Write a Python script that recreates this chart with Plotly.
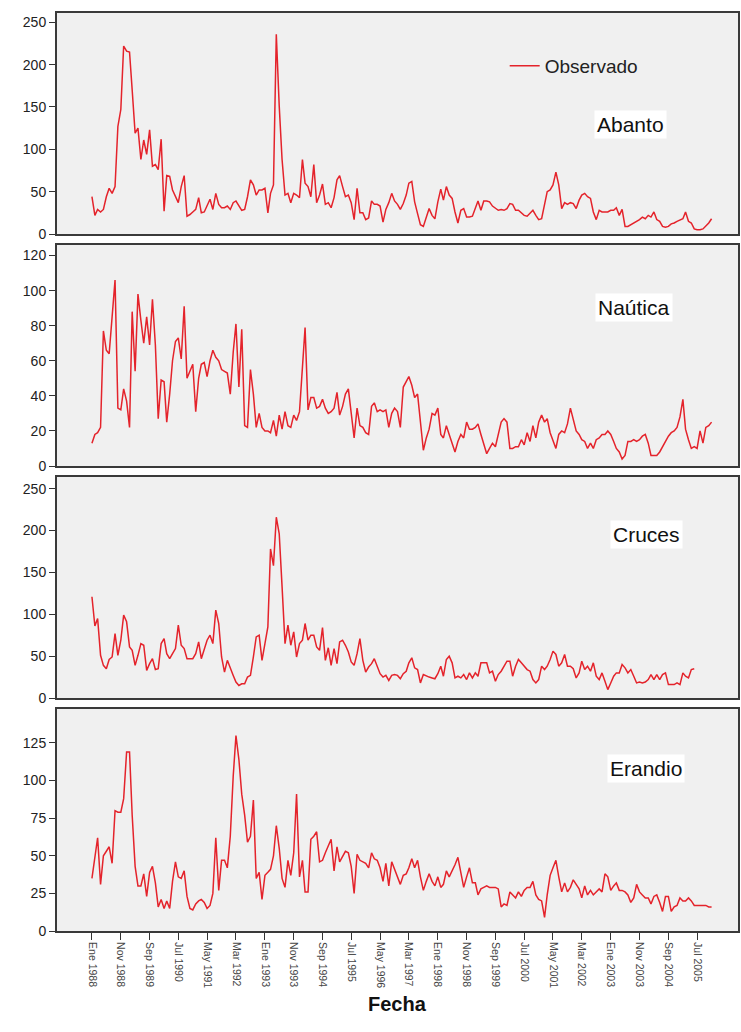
import pandas as pd
import plotly.graph_objects as go

# Monthly observed series, starting January 1988
abanto = [44, 22, 29, 26, 29, 44, 54, 48, 56, 127,
          147, 222, 216, 215, 170, 119, 125, 88, 111, 94,
          123, 80, 82, 76, 112, 27, 69, 68, 52, 44,
          37, 56, 69, 21, 23, 26, 29, 43, 25, 26,
          33, 41, 29, 48, 35, 31, 31, 33, 29, 37,
          39, 33, 28, 29, 44, 64, 58, 46, 52, 52,
          54, 25, 48, 58, 236, 151, 88, 46, 48, 37,
          48, 46, 43, 88, 60, 56, 44, 82, 37, 46,
          59, 35, 37, 31, 43, 64, 69, 56, 44, 46,
          37, 17, 54, 25, 25, 17, 19, 39, 35, 35,
          33, 14, 29, 37, 48, 39, 35, 29, 36, 46,
          60, 62, 38, 24, 11, 9, 20, 30, 22, 18,
          38, 53, 40, 56, 46, 42, 26, 13, 28, 30,
          20, 20, 21, 30, 39, 28, 39, 39, 38, 33,
          30, 28, 29, 28, 30, 36, 35, 28, 28, 25,
          22, 21, 24, 28, 22, 17, 18, 34, 50, 52,
          58, 73, 58, 30, 37, 35, 37, 36, 30, 40,
          46, 48, 44, 42, 26, 17, 28, 26, 26, 26,
          28, 28, 31, 22, 29, 9, 9, 11, 13, 15,
          17, 20, 18, 22, 20, 26, 17, 15, 9, 8,
          9, 12, 13, 15, 17, 18, 26, 15, 13, 6,
          5, 5, 6, 9, 13, 18]

nautica = [13, 18, 19, 22, 77, 66, 64, 88, 106, 33,
           32, 44, 37, 22, 88, 54, 98, 83, 70, 85,
           69, 95, 69, 27, 49, 48, 25, 41, 60, 71,
           73, 61, 91, 50, 54, 58, 31, 50, 58, 59,
           51, 60, 66, 62, 60, 55, 54, 53, 41, 65,
           81, 45, 78, 23, 22, 55, 41, 22, 30, 22,
           20, 20, 19, 26, 17, 29, 21, 31, 23, 22,
           29, 26, 31, 54, 79, 32, 39, 39, 33, 34,
           38, 33, 30, 31, 33, 42, 29, 34, 41, 44,
           29, 16, 33, 23, 22, 19, 18, 34, 36, 31,
           32, 31, 32, 22, 30, 33, 31, 22, 45, 48,
           51, 46, 39, 41, 25, 9, 16, 21, 30, 29,
           33, 18, 16, 23, 18, 13, 8, 14, 18, 16,
           25, 21, 21, 22, 24, 18, 13, 7, 10, 13,
           11, 18, 25, 27, 25, 10, 10, 11, 11, 15,
           12, 19, 14, 23, 16, 25, 29, 25, 27, 19,
           15, 10, 18, 20, 19, 24, 33, 27, 20, 18,
           15, 14, 10, 13, 10, 15, 16, 18, 18, 20,
           18, 14, 10, 8, 4, 6, 14, 14, 15, 14,
           15, 17, 18, 13, 6, 6, 6, 8, 11, 14,
           17, 19, 20, 22, 28, 38, 21, 15, 10, 11,
           10, 20, 13, 22, 23, 25]

cruces = [121, 86, 95, 51, 39, 35, 46, 49, 77, 51,
          69, 99, 91, 61, 57, 39, 51, 65, 63, 33,
          41, 47, 34, 35, 65, 71, 53, 47, 53, 59,
          87, 63, 59, 47, 47, 47, 53, 67, 47, 59,
          69, 75, 65, 105, 89, 49, 31, 45, 37, 27,
          19, 15, 17, 17, 25, 27, 49, 73, 75, 45,
          65, 85, 178, 158, 216, 196, 133, 65, 87, 63,
          79, 49, 65, 69, 89, 69, 75, 75, 61, 57,
          84, 45, 60, 39, 59, 41, 67, 69, 63, 55,
          43, 39, 53, 71, 45, 31, 37, 41, 47, 37,
          29, 25, 27, 21, 27, 28, 27, 23, 29, 32,
          42, 48, 36, 34, 18, 28, 26, 25, 24, 23,
          29, 38, 26, 46, 50, 42, 24, 26, 24, 28,
          22, 30, 24, 30, 26, 42, 42, 42, 30, 32,
          20, 28, 32, 38, 44, 44, 26, 38, 46, 42,
          38, 34, 32, 22, 18, 22, 38, 34, 38, 46,
          56, 52, 38, 42, 52, 38, 38, 35, 24, 30,
          44, 34, 38, 32, 42, 26, 22, 30, 20, 10,
          18, 26, 30, 30, 40, 36, 30, 34, 26, 18,
          19, 18, 19, 22, 28, 22, 28, 22, 28, 30,
          16, 16, 16, 18, 16, 30, 26, 24, 34, 35]

erandio = [35, 48, 62, 31, 50, 53, 56, 45, 80, 79,
           79, 88, 119, 119, 77, 43, 30, 30, 38, 23,
           39, 43, 32, 16, 21, 15, 20, 15, 33, 46,
           36, 35, 40, 23, 15, 14, 18, 20, 21, 19,
           15, 17, 25, 62, 27, 47, 47, 42, 63, 103,
           130, 114, 91, 77, 59, 63, 87, 35, 39, 21,
           37, 39, 41, 50, 70, 55, 35, 29, 47, 37,
           52, 91, 36, 47, 26, 26, 61, 63, 66, 46,
           47, 52, 57, 61, 40, 56, 46, 50, 53, 52,
           43, 25, 51, 47, 46, 45, 42, 52, 48, 47,
           42, 33, 45, 30, 46, 41, 37, 31, 37, 38,
           42, 48, 42, 47, 36, 27, 33, 38, 33, 30,
           36, 29, 31, 40, 36, 40, 44, 49, 40, 29,
           36, 42, 32, 32, 24, 28, 29, 30, 29, 29,
           29, 28, 16, 18, 17, 26, 24, 22, 26, 23,
           27, 29, 29, 33, 24, 21, 20, 9, 24, 37,
           42, 47, 36, 26, 32, 26, 29, 34, 31, 28,
           22, 30, 24, 27, 24, 26, 28, 26, 38, 36,
           27, 30, 32, 27, 27, 26, 24, 19, 22, 31,
           26, 24, 22, 22, 18, 23, 24, 19, 13, 23,
           23, 13, 16, 17, 22, 20, 20, 22, 20, 17,
           17, 17, 17, 17, 16, 16]

stations = ["Abanto", "Naútica", "Cruces", "Erandio"]
series = [abanto, nautica, cruces, erandio]
y_tops = [261, 126, 264, 147.6]
y_steps = [50, 20, 50, 25]
y_maxtick = [250, 120, 250, 125]

tick_labels = ["Ene 1988", "Nov 1988", "Sep 1989", "Jul 1990", "May 1991", "Mar 1992",
               "Ene 1993", "Nov 1993", "Sep 1994", "Jul 1995", "May 1996", "Mar 1997",
               "Ene 1998", "Nov 1998", "Sep 1999", "Jul 2000", "May 2001", "Mar 2002",
               "Ene 2003", "Nov 2003", "Sep 2004", "Jul 2005"]
tick_dates = pd.date_range("1988-01-01", periods=len(tick_labels), freq="10MS")

W, H = 741, 1032
M_L, M_R, M_T, M_B = 57, 1, 13, 101
plot_h = H - M_T - M_B
# pixel extents (top, bottom) of each panel
panels_px = [(13, 234), (245, 466), (477, 698), (709, 931)]


def py(ypx):
    return (H - M_B - ypx) / plot_h


def px(xpx):
    return (xpx - M_L) / (W - M_L - M_R)


RED = "#e4232b"
FONT = "Liberation Sans, Arial, sans-serif"

fig = go.Figure()
layout = {}
for i, (name, vals) in enumerate(zip(stations, series)):
    k = "" if i == 0 else str(i + 1)
    dates = pd.date_range("1988-01-01", periods=len(vals), freq="MS")
    fig.add_trace(go.Scatter(
        x=dates, y=vals, mode="lines", name="Observado",
        line=dict(color=RED, width=1.5),
        showlegend=(i == 0),
        xaxis="x" + k, yaxis="y" + k,
    ))
    top, bot = panels_px[i]
    last = i == len(stations) - 1
    layout["xaxis" + k] = dict(
        domain=[0, 1], anchor="y" + k,
        range=["1986-12-28", "2006-09-06"],
        tickvals=tick_dates, ticktext=tick_labels,
        showticklabels=last, ticks="outside" if last else "",
        ticklen=7, tickwidth=1, tickcolor="#333",
        tickangle=90, tickfont=dict(family=FONT, size=10.5, color="#444"),
        showgrid=False, zeroline=False,
        showline=True, mirror=True, linewidth=2, linecolor="#3a3a3a",
        matches="x" if i > 0 else None,
    )
    layout["yaxis" + k] = dict(
        domain=[py(bot), py(top)], anchor="x" + k,
        range=[0, y_tops[i]],
        tickvals=list(range(0, y_maxtick[i] + 1, y_steps[i])),
        ticks="outside", ticklen=6, tickwidth=1, tickcolor="#333",
        tickfont=dict(family=FONT, size=14, color="#222"),
        showgrid=False, zeroline=False,
        showline=True, mirror=True, linewidth=2, linecolor="#3a3a3a",
    )

label_pos = [(632, 125), (636, 307), (648, 534), (648, 768)]
annotations = []
for name, (lx, ly) in zip(stations, label_pos):
    annotations.append(dict(
        text=name, x=px(lx), y=py(ly), xref="paper", yref="paper",
        xanchor="center", yanchor="middle", showarrow=False,
        font=dict(family=FONT, size=21, color="#111"),
        bgcolor="white", borderpad=2,
    ))
annotations.append(dict(
    text="<b>Fecha</b>", x=px(398), y=py(1004), xref="paper", yref="paper",
    xanchor="center", yanchor="middle", showarrow=False,
    font=dict(family=FONT, size=20, color="#111"),
))

fig.update_layout(
    width=W, height=H,
    margin=dict(l=M_L, r=M_R, t=M_T, b=M_B),
    paper_bgcolor="white", plot_bgcolor="#f0f0f0",
    showlegend=True,
    legend=dict(x=px(506), y=py(66), xanchor="left", yanchor="middle",
                bgcolor="rgba(0,0,0,0)", borderwidth=0,
                font=dict(family=FONT, size=19, color="#222")),
    annotations=annotations,
    **layout,
)

fig.write_html("out.html")
